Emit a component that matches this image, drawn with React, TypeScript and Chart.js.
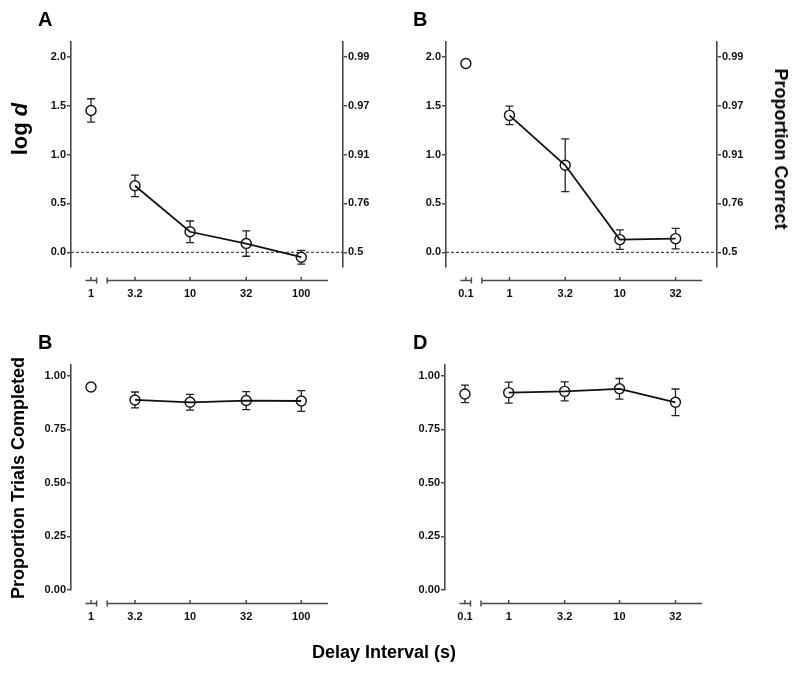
import React, { useEffect, useRef } from "react";
import { Chart, registerables } from "chart.js";

Chart.register(...registerables);

// ---------- data ----------
const delaysA = ["1", "3.2", "10", "32", "100"];
const delaysB = ["0.1", "1", "3.2", "10", "32"];

const logdA = [1.45, 0.68, 0.21, 0.09, -0.05];
const logdAErr = [0.12, 0.11, 0.11, 0.13, 0.07];
const logdB = [1.93, 1.4, 0.89, 0.13, 0.14];
const logdBErr = [0, 0.095, 0.27, 0.1, 0.105];

const completedA = [0.947, 0.887, 0.876, 0.884, 0.882];
const completedAErr = [0, 0.037, 0.037, 0.042, 0.048];
const completedB = [0.915, 0.921, 0.927, 0.939, 0.876];
const completedBErr = [0.041, 0.049, 0.044, 0.048, 0.062];

const logdTicks = [0, 0.5, 1, 1.5, 2];
const proportionCorrectTicks = ["0.5", "0.76", "0.91", "0.97", "0.99"];
const completedTicks = [0, 0.25, 0.5, 0.75, 1];

// ---------- styling ----------
const FONT = '"Liberation Sans", Arial, Helvetica, sans-serif';
const AXIS = "#4a4a4a";
const INK = "#111";
const CANVAS_W = 800;
const CANVAS_H = 673;

Chart.defaults.font.family = FONT;

type PanelSpec = {
  labels: string[];
  values: number[];
  errs: number[];
  yMin: number;
  yMax: number;
  yTicks: number[];
  decimals: number;
  rightLabels?: string[];
  zeroLine: boolean;
  area: { left: number; right: number; top: number; bottom: number };
};

// x positions in half-decade units, with the first delay on a broken-off segment
function xPositions(labels: string[]): number[] {
  const u = labels.map((l) => 2 * Math.log10(parseFloat(l)));
  const out = u.slice();
  out[0] = u[1] - 0.79;
  return out;
}

function buildConfig(p: PanelSpec): any {
  const pos = xPositions(p.labels);
  const firstMain = pos[1];
  const lastMain = pos[pos.length - 1];
  const xMin = firstMain - 1.15;
  const xMax = lastMain + 0.75;
  const YW = 40;
  const XH = 40;
  const padding = {
    left: p.area.left - YW,
    right: CANVAS_W - p.area.right - (p.rightLabels ? YW : 0),
    top: p.area.top,
    bottom: CANVAS_H - p.area.bottom - XH,
  };

  const pointStyle = {
    pointRadius: 5,
    pointHoverRadius: 5,
    pointBorderWidth: 1.4,
    pointBorderColor: INK,
    pointBackgroundColor: "rgba(0,0,0,0)",
  };

  const datasets = [
    {
      data: [{ x: pos[0], y: p.values[0] }],
      errorBars: [p.errs[0]],
      showLine: false,
      borderColor: INK,
      ...pointStyle,
    },
    {
      data: p.values.slice(1).map((v, i) => ({ x: pos[i + 1], y: v })),
      errorBars: p.errs.slice(1),
      showLine: true,
      borderColor: INK,
      borderWidth: 1.8,
      ...pointStyle,
    },
  ];

  const tickFont = { family: FONT, size: 11, weight: "bold" as const };

  const scales: any = {
    x: {
      type: "linear",
      position: "bottom",
      min: xMin,
      max: xMax,
      bounds: "data",
      grid: { display: false },
      border: { display: false },
      afterBuildTicks: (scale: any) => {
        scale.ticks = pos.map((v) => ({ value: v }));
      },
      afterFit: (scale: any) => {
        scale.height = XH;
      },
      ticks: {
        autoSkip: false,
        maxRotation: 0,
        padding: 12,
        color: INK,
        font: tickFont,
        callback: (_v: any, i: number) => p.labels[i],
      },
    },
    y: {
      type: "linear",
      position: "left",
      min: p.yMin,
      max: p.yMax,
      bounds: "data",
      grid: {
        display: true,
        drawOnChartArea: false,
        drawTicks: true,
        tickLength: 4,
        color: AXIS,
        lineWidth: 1.5,
      },
      border: { display: true, color: AXIS, width: 1.6 },
      afterBuildTicks: (scale: any) => {
        scale.ticks = p.yTicks.map((v) => ({ value: v }));
      },
      afterFit: (scale: any) => {
        scale.width = YW;
      },
      ticks: {
        padding: 1,
        color: INK,
        font: tickFont,
        callback: (v: any) => Number(v).toFixed(p.decimals),
      },
    },
  };

  if (p.rightLabels) {
    const rl = p.rightLabels;
    scales.y1 = {
      type: "linear",
      position: "right",
      min: p.yMin,
      max: p.yMax,
      bounds: "data",
      grid: {
        display: true,
        drawOnChartArea: false,
        drawTicks: true,
        tickLength: 4,
        color: AXIS,
        lineWidth: 1.5,
      },
      border: { display: true, color: AXIS, width: 1.6 },
      afterBuildTicks: (scale: any) => {
        scale.ticks = p.yTicks.map((v) => ({ value: v }));
      },
      afterFit: (scale: any) => {
        scale.width = YW;
      },
      ticks: {
        padding: 1,
        color: INK,
        font: tickFont,
        callback: (_v: any, i: number) => rl[i],
      },
    };
  }

  const decor = {
    id: "panelDecor",
    beforeDatasetsDraw(chart: any) {
      if (!p.zeroLine) return;
      const { ctx, chartArea: a, scales: s } = chart;
      const y = s.y.getPixelForValue(0);
      ctx.save();
      ctx.setLineDash([3, 2]);
      ctx.strokeStyle = "#222";
      ctx.lineWidth = 1;
      ctx.beginPath();
      ctx.moveTo(a.left, y);
      ctx.lineTo(a.right, y);
      ctx.stroke();
      ctx.restore();
    },
    afterDatasetsDraw(chart: any) {
      const { ctx, scales: s } = chart;
      ctx.save();
      ctx.strokeStyle = "#222";
      ctx.lineWidth = 1.3;
      chart.data.datasets.forEach((ds: any, di: number) => {
        const meta = chart.getDatasetMeta(di);
        meta.data.forEach((el: any, j: number) => {
          const err = ds.errorBars[j];
          if (!err) return;
          const v = ds.data[j].y;
          const r = 5;
          const cx = el.x;
          const cy = el.y;
          const yTop = s.y.getPixelForValue(v + err);
          const yBot = s.y.getPixelForValue(v - err);
          ctx.beginPath();
          if (cy - yTop > r) {
            ctx.moveTo(cx, cy - r);
            ctx.lineTo(cx, yTop);
            ctx.moveTo(cx - 4, yTop);
            ctx.lineTo(cx + 4, yTop);
          }
          if (yBot - cy > r) {
            ctx.moveTo(cx, cy + r);
            ctx.lineTo(cx, yBot);
            ctx.moveTo(cx - 4, yBot);
            ctx.lineTo(cx + 4, yBot);
          }
          ctx.stroke();
        });
      });
      ctx.restore();
    },
    afterDraw(chart: any) {
      const { ctx, chartArea: a, scales: s } = chart;
      const y = a.bottom + 13.5;
      const px = (v: number) => s.x.getPixelForValue(v);
      ctx.save();
      ctx.strokeStyle = AXIS;
      ctx.lineWidth = 1.5;
      ctx.beginPath();
      // short broken-off segment
      const s1a = px(pos[0] - 0.1);
      const s1b = px(pos[0] + 0.1);
      ctx.moveTo(s1a, y);
      ctx.lineTo(s1b, y);
      ctx.moveTo(s1b, y - 3);
      ctx.lineTo(s1b, y + 3);
      // main segment
      const s2a = px(firstMain - 0.5);
      const s2b = px(lastMain + 0.48);
      ctx.moveTo(s2a, y - 3);
      ctx.lineTo(s2a, y + 3);
      ctx.moveTo(s2a, y);
      ctx.lineTo(s2b, y);
      // tick marks
      pos.forEach((v) => {
        const x = px(v);
        ctx.moveTo(x, y);
        ctx.lineTo(x, y - 3.5);
      });
      ctx.stroke();
      ctx.restore();
    },
  };

  return {
    type: "scatter",
    data: { datasets },
    options: {
      animation: false,
      responsive: false,
      devicePixelRatio: 1,
      layout: { padding },
      events: [],
      plugins: {
        legend: { display: false },
        tooltip: { enabled: false },
        title: { display: false },
      },
      scales,
    },
    plugins: [decor],
  };
}

const panels: PanelSpec[] = [
  {
    labels: delaysA,
    values: logdA,
    errs: logdAErr,
    yMin: -0.15,
    yMax: 2.15,
    yTicks: logdTicks,
    decimals: 1,
    rightLabels: proportionCorrectTicks,
    zeroLine: true,
    area: { left: 71, right: 343, top: 42, bottom: 267 },
  },
  {
    labels: delaysB,
    values: logdB,
    errs: logdBErr,
    yMin: -0.15,
    yMax: 2.15,
    yTicks: logdTicks,
    decimals: 1,
    rightLabels: proportionCorrectTicks,
    zeroLine: true,
    area: { left: 446, right: 717, top: 42, bottom: 267 },
  },
  {
    labels: delaysA,
    values: completedA,
    errs: completedAErr,
    yMin: 0,
    yMax: 1.05,
    yTicks: completedTicks,
    decimals: 2,
    zeroLine: false,
    area: { left: 71, right: 343, top: 365, bottom: 590 },
  },
  {
    labels: delaysB,
    values: completedB,
    errs: completedBErr,
    yMin: 0,
    yMax: 1.05,
    yTicks: completedTicks,
    decimals: 2,
    zeroLine: false,
    area: { left: 445, right: 717, top: 365, bottom: 590 },
  },
];

function Panel({ spec }: { spec: PanelSpec }) {
  const ref = useRef<HTMLCanvasElement>(null);
  useEffect(() => {
    const chart = new Chart(ref.current as HTMLCanvasElement, buildConfig(spec));
    return () => chart.destroy();
  }, [spec]);
  return (
    <canvas
      ref={ref}
      width={CANVAS_W}
      height={CANVAS_H}
      style={{ position: "absolute", left: 0, top: 0, width: CANVAS_W, height: CANVAS_H }}
    />
  );
}

const textBase: React.CSSProperties = {
  position: "absolute",
  fontFamily: FONT,
  fontWeight: "bold",
  color: "#000",
  whiteSpace: "nowrap",
  lineHeight: 1,
};

function RotText({
  text,
  cx,
  cy,
  deg,
  size,
  children,
}: {
  text?: string;
  cx: number;
  cy: number;
  deg: number;
  size: number;
  children?: React.ReactNode;
}) {
  return (
    <div
      style={{
        ...textBase,
        left: cx,
        top: cy,
        fontSize: size,
        transform: `translate(-50%, -50%) rotate(${deg}deg)`,
      }}
    >
      {children ?? text}
    </div>
  );
}

export default function App() {
  return (
    <div
      style={{
        position: "absolute",
        left: 0,
        top: 0,
        width: CANVAS_W,
        height: CANVAS_H,
        background: "#fff",
        overflow: "hidden",
      }}
    >
      {panels.map((p, i) => (
        <Panel key={i} spec={p} />
      ))}
      <div style={{ ...textBase, left: 38, top: 9, fontSize: 20 }}>A</div>
      <div style={{ ...textBase, left: 413, top: 9, fontSize: 20 }}>B</div>
      <div style={{ ...textBase, left: 38, top: 332, fontSize: 20 }}>B</div>
      <div style={{ ...textBase, left: 413, top: 332, fontSize: 20 }}>D</div>
      <RotText cx={20} cy={129} deg={-90} size={22}>
        log <i>d</i>
      </RotText>
      <RotText text="Proportion Correct" cx={781} cy={149} deg={90} size={18} />
      <RotText text="Proportion Trials Completed" cx={18} cy={478} deg={-90} size={18} />
      <RotText text="Delay Interval (s)" cx={384} cy={652} deg={0} size={18} />
    </div>
  );
}
